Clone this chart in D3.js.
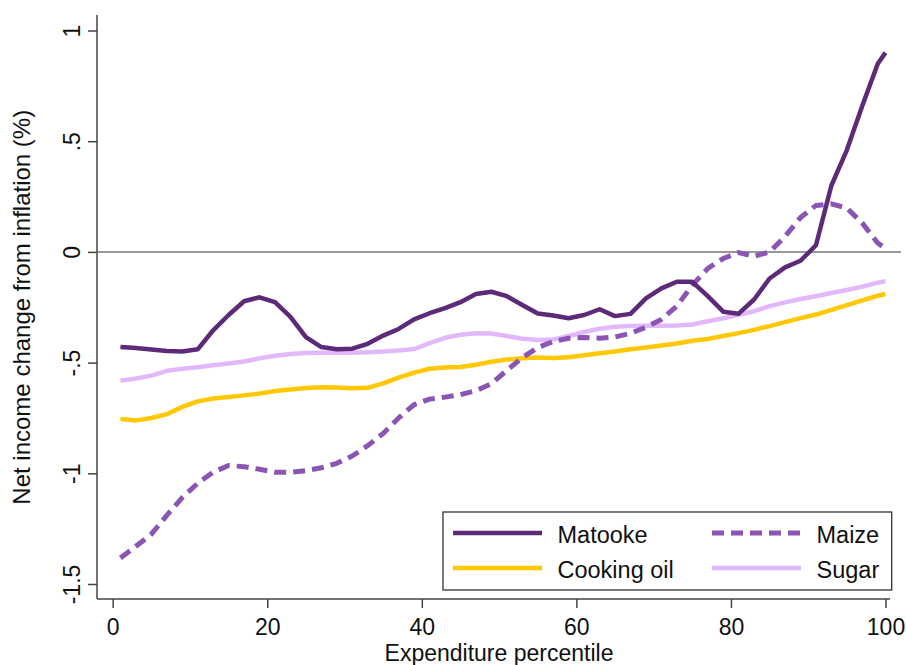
<!DOCTYPE html>
<html>
<head>
<meta charset="utf-8">
<script src="https://cdn.jsdelivr.net/npm/d3@7"></script>
<style>
  html, body { margin: 0; padding: 0; background: #fff; }
  svg { display: block; font-family: 'Liberation Sans', Arial, sans-serif; }
</style>
</head>
<body>
<div id="chart"></div>
<script>
// expenditure percentiles where the smoothed curves were read
const pct = [1, 3, 5, 7, 9, 11, 13, 15, 17, 19, 21, 23, 25, 27, 29, 31, 33, 35, 37, 39,
  41, 43, 45, 47, 49, 51, 53, 55, 57, 59, 61, 63, 65, 67, 69, 71, 73, 75, 77, 79,
  81, 83, 85, 87, 89, 91, 93, 95, 97, 99, 100]

const matooke = [-0.43, -0.434, -0.441, -0.448, -0.45, -0.44, -0.354, -0.285, -0.223, -0.205,
  -0.227, -0.293, -0.385, -0.43, -0.44, -0.437, -0.415, -0.378, -0.348, -0.305,
  -0.277, -0.254, -0.227, -0.19, -0.18, -0.2, -0.24, -0.278, -0.287, -0.3,
  -0.285, -0.259, -0.29, -0.28, -0.21, -0.165, -0.135, -0.135, -0.2, -0.27,
  -0.279, -0.215, -0.12, -0.07, -0.04, 0.03, 0.3, 0.46, 0.66, 0.85, 0.9]

const maize = [-1.383, -1.33, -1.275, -1.19, -1.11, -1.045, -0.995, -0.965, -0.97, -0.982,
  -0.995, -0.996, -0.988, -0.975, -0.955, -0.922, -0.875, -0.82, -0.75, -0.69,
  -0.665, -0.656, -0.645, -0.627, -0.595, -0.535, -0.478, -0.432, -0.405, -0.39,
  -0.387, -0.39, -0.384, -0.368, -0.34, -0.305, -0.245, -0.15, -0.075, -0.03,
  -0.003, -0.02, 0.0, 0.07, 0.155, 0.21, 0.217, 0.198, 0.13, 0.04, 0.015]

const cookingOil = [-0.755, -0.761, -0.75, -0.733, -0.7, -0.675, -0.662, -0.655, -0.648, -0.64,
  -0.628, -0.621, -0.615, -0.611, -0.613, -0.616, -0.614, -0.594, -0.568, -0.545,
  -0.528, -0.522, -0.52, -0.51, -0.496, -0.486, -0.48, -0.477, -0.479, -0.476,
  -0.467, -0.458, -0.45, -0.44, -0.432, -0.423, -0.414, -0.401, -0.393, -0.38,
  -0.367, -0.352, -0.335, -0.317, -0.299, -0.283, -0.262, -0.24, -0.219, -0.198, -0.19]

const sugar = [-0.582, -0.572, -0.559, -0.537, -0.528, -0.521, -0.512, -0.504, -0.495, -0.481,
  -0.469, -0.461, -0.457, -0.456, -0.456, -0.455, -0.453, -0.45, -0.445, -0.439,
  -0.412, -0.388, -0.374, -0.367, -0.369, -0.38, -0.392, -0.398, -0.396, -0.38,
  -0.362, -0.347, -0.338, -0.335, -0.334, -0.334, -0.332, -0.328, -0.313, -0.3,
  -0.284, -0.268, -0.245, -0.228, -0.213, -0.2, -0.186, -0.172, -0.157, -0.139, -0.132]

const xTicks = [0, 20, 40, 60, 80, 100]
const yTicks = [-1.5, -1, -0.5, 0, 0.5, 1]

const seriesNames = ['Matooke', 'Maize', 'Cooking oil', 'Sugar']
const seriesValues = [matooke, maize, cookingOil, sugar]

const styles = {
  Matooke: { color: '#5c2a78', width: 4.5, dash: null },
  Maize: { color: '#8a55b3', width: 5, dash: '12,7' },
  'Cooking oil': { color: '#ffc800', width: 4.5, dash: null },
  Sugar: { color: '#e2b8fc', width: 4.5, dash: null },
}

const width = 906
const height = 665
const frame = { left: 97, right: 890, top: 15, bottom: 599 }

// Stata style labels: .5 rather than 0.5
function stataNum(d) {
  return String(d).replace('0.', '.')
}

const svg = d3
  .select('#chart')
  .append('svg')
  .attr('width', width)
  .attr('height', height)

const x = d3.scaleLinear().domain([0, 100]).range([112.7, 885.5])
const y = d3.scaleLinear().domain([-1.5, 1]).range([584, 30.5])

// y axis
const yAxis = svg
  .append('g')
  .attr('transform', `translate(${frame.left},0)`)
  .call(d3.axisLeft(y).tickValues(yTicks).tickSize(9).tickFormat(stataNum))
yAxis.select('.domain').remove()
yAxis.selectAll('line').attr('stroke', '#444').attr('stroke-width', 1.5)
yAxis
  .selectAll('text')
  .attr('x', 0)
  .attr('dy', 0)
  .attr('text-anchor', 'middle')
  .attr('transform', 'translate(-17,0) rotate(-90)')
  .attr('font-size', '23px')
  .attr('font-family', 'Liberation Sans, Arial, sans-serif')
  .attr('fill', '#111')

// x axis
const xAxis = svg
  .append('g')
  .attr('transform', `translate(0,${frame.bottom})`)
  .call(d3.axisBottom(x).tickValues(xTicks).tickSize(9).tickPadding(11))
xAxis.select('.domain').remove()
xAxis.selectAll('line').attr('stroke', '#444').attr('stroke-width', 1.5)
xAxis
  .selectAll('text')
  .attr('font-size', '23px')
  .attr('font-family', 'Liberation Sans, Arial, sans-serif')
  .attr('fill', '#111')

// axis lines
svg
  .append('line')
  .attr('x1', frame.left)
  .attr('x2', frame.left)
  .attr('y1', frame.top)
  .attr('y2', frame.bottom)
  .attr('stroke', '#444')
  .attr('stroke-width', 1.5)

svg
  .append('line')
  .attr('x1', frame.left)
  .attr('x2', frame.right)
  .attr('y1', frame.bottom)
  .attr('y2', frame.bottom)
  .attr('stroke', '#444')
  .attr('stroke-width', 1.5)

// zero reference line
svg
  .append('line')
  .attr('x1', frame.left)
  .attr('x2', 901)
  .attr('y1', y(0))
  .attr('y2', y(0))
  .attr('stroke', '#777')
  .attr('stroke-width', 1.5)

// axis titles
svg
  .append('text')
  .attr('x', 499)
  .attr('y', 660.5)
  .attr('text-anchor', 'middle')
  .attr('font-size', '23px')
  .attr('fill', '#111')
  .text('Expenditure percentile')

svg
  .append('text')
  .attr('transform', `translate(29.5,${(y(1) + y(-1.5)) / 2}) rotate(-90)`)
  .attr('text-anchor', 'middle')
  .attr('font-size', '24px')
  .attr('fill', '#111')
  .text('Net income change from inflation (%)')

// series lines, drawn so that Matooke ends on top
const line = d3
  .line()
  .x(d => x(d[0]))
  .y(d => y(d[1]))

const drawOrder = ['Sugar', 'Cooking oil', 'Maize', 'Matooke']
drawOrder.forEach(name => {
  const values = seriesValues[seriesNames.indexOf(name)]
  const s = styles[name]
  svg
    .append('path')
    .datum(pct.map((p, i) => [p, values[i]]))
    .attr('fill', 'none')
    .attr('stroke', s.color)
    .attr('stroke-width', s.width)
    .attr('stroke-linejoin', 'round')
    .attr('stroke-dasharray', s.dash)
    .attr('d', line)
})

// legend
const legend = svg.append('g')
legend
  .append('rect')
  .attr('x', 443)
  .attr('y', 512)
  .attr('width', 448.7)
  .attr('height', 78)
  .attr('fill', '#fff')
  .attr('stroke', '#333')
  .attr('stroke-width', 1.3)

seriesNames.forEach((name, i) => {
  const col = i % 2
  const row = Math.floor(i / 2)
  const lx = col === 0 ? 453 : 712
  const ly = 533 + row * 35
  const s = styles[name]
  legend
    .append('line')
    .attr('x1', lx)
    .attr('x2', lx + 89)
    .attr('y1', ly)
    .attr('y2', ly)
    .attr('stroke', s.color)
    .attr('stroke-width', s.width)
    .attr('stroke-dasharray', s.dash)
  legend
    .append('text')
    .attr('x', lx + 104.5)
    .attr('y', ly + 9.7)
    .attr('font-size', '23.5px')
    .attr('fill', '#111')
    .text(name)
})
</script>
</body>
</html>
